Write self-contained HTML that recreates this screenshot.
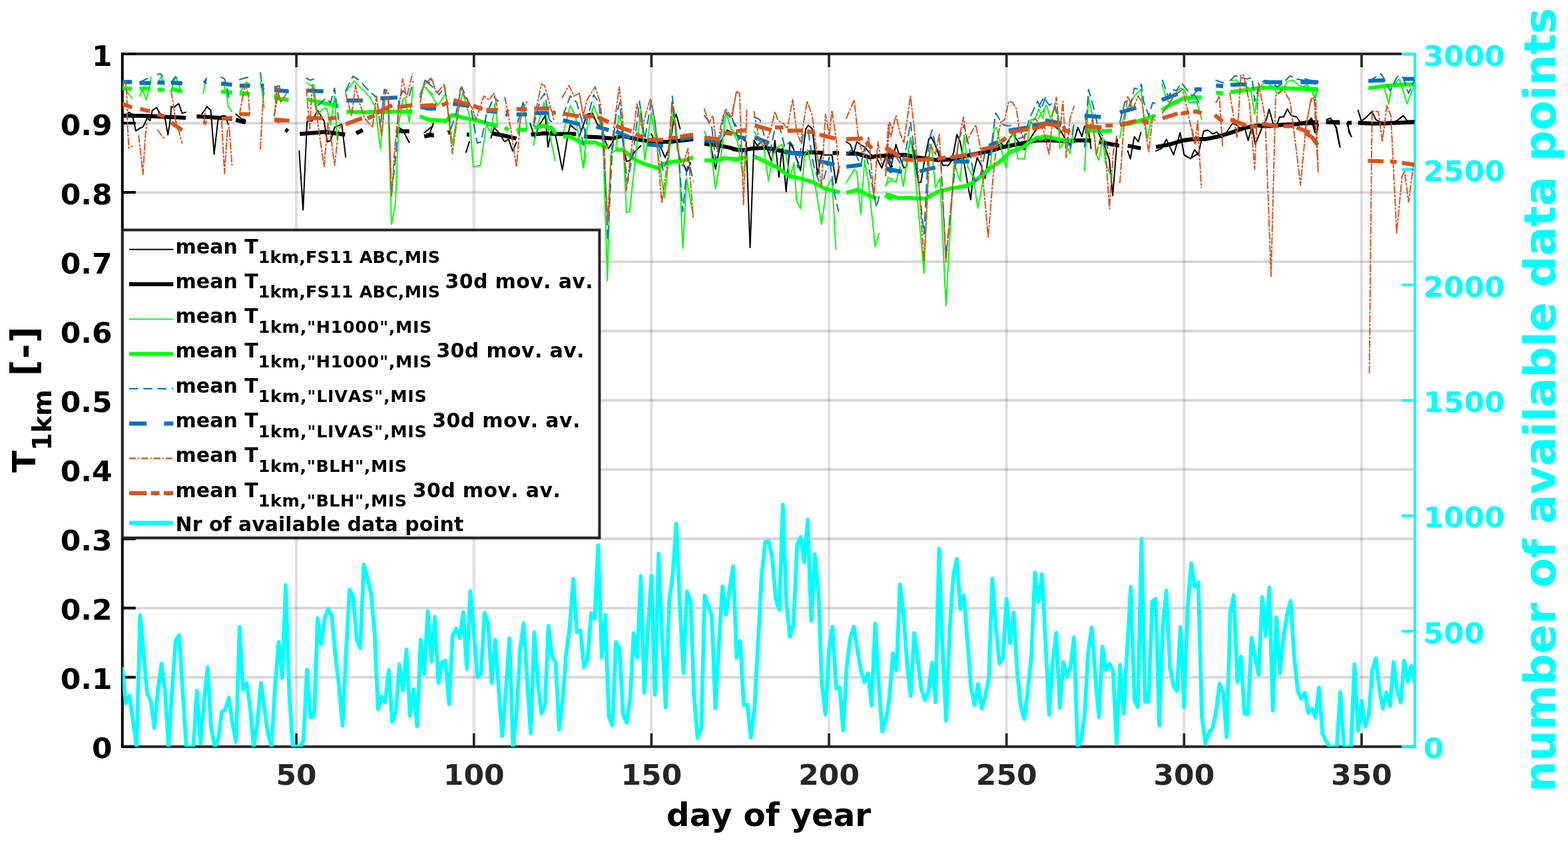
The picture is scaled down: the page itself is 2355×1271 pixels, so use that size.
<!DOCTYPE html>
<html><head><meta charset="utf-8"><style>html,body{margin:0;padding:0;background:#fff;overflow:hidden}</style></head>
<body>
<div style="width:2355px;height:1271px">
<svg width="2355" height="1271" viewBox="0 0 2355 1271" style="display:block">
<rect width="2355" height="1271" fill="#fff"/>
<defs><clipPath id="ax"><rect x="183.8" y="81.0" width="1941.2" height="1040.7"/></clipPath></defs>
<path d="M445.1 81.0V1121.7M711.8 81.0V1121.7M978.4 81.0V1121.7M1245.1 81.0V1121.7M1511.7 81.0V1121.7M1778.4 81.0V1121.7M2045.0 81.0V1121.7" stroke="#262626" stroke-opacity="0.147" stroke-width="4.2" fill="none"/>
<path d="M183.8 1017.6H2125.0M183.8 913.6H2125.0M183.8 809.5H2125.0M183.8 705.4H2125.0M183.8 601.4H2125.0M183.8 497.3H2125.0M183.8 393.2H2125.0M183.8 289.1H2125.0M183.8 185.1H2125.0" stroke="#262626" stroke-opacity="0.189" stroke-width="3.8" fill="none"/>
<path d="M183.8 81.0H2125.0M183.8 1121.7H2125.0" stroke="#262626" stroke-width="4" fill="none"/>
<path d="M445.1 1121.7v-20M445.1 81.0v20M711.8 1121.7v-20M711.8 81.0v20M978.4 1121.7v-20M978.4 81.0v20M1245.1 1121.7v-20M1245.1 81.0v20M1511.7 1121.7v-20M1511.7 81.0v20M1778.4 1121.7v-20M1778.4 81.0v20M2045.0 1121.7v-20M2045.0 81.0v20" stroke="#262626" stroke-width="3.6" fill="none"/>
<path d="M183.8 79.0V1123.7M183.8 1121.7h20M183.8 1017.6h20M183.8 913.6h20M183.8 809.5h20M183.8 705.4h20M183.8 601.4h20M183.8 497.3h20M183.8 393.2h20M183.8 289.1h20M183.8 185.1h20M183.8 81.0h20" stroke="#000" stroke-width="4" fill="none"/>
<path d="M2125.0 79.0V1123.7M2125.0 1121.7h-20M2125.0 948.2h-20M2125.0 774.8h-20M2125.0 601.4h-20M2125.0 427.9h-20M2125.0 254.4h-20M2125.0 81.0h-20" stroke="#00ffff" stroke-width="4" fill="none"/>
<g clip-path="url(#ax)" fill="none" stroke-linejoin="round" stroke-linecap="round">
<path d="M190.6,171.5 193.5,168.6 198.4,171.5 204.1,196.9 209.7,192.7 214.0,191.3 216.8,187.0 221.1,177.1 225.3,181.4 228.8,165.8 235.2,161.5 238.1,167.2 242.3,172.9 248.0,178.5 252.2,202.6 255.8,180.0 257.2,160.1 261.4,161.5 264.2,158.7 268.5,155.9 273.5,170.0 279.1,168.6M303.2,171.5 311.0,160.1 316.6,165.8 321.6,231.6 327.3,181.4 332.9,174.3 338.6,174.3 342.8,187.0M354.2,171.5 362.7,178.5 368.3,180.0M449.3,226.8 455.2,315.3 461.2,182.5 469.0,181.6 476.9,165.8 486.7,181.6 491.6,213.0 496.6,211.1 502.5,191.4 513.3,186.5 519.2,235.7M594.9,197.3 598.9,191.4 604.8,195.3 614.6,214.0M637.2,199.3 650.0,189.4M640.0,205.2 645.9,199.3 650.8,185.5M672.5,197.3 677.4,199.3M700.0,228.8 704.9,213.0M737.4,207.1 742.3,191.4 750.2,201.2 758.0,213.0 763.9,209.1 769.8,226.8 775.7,214.0M796.4,185.5 803.3,207.1 809.2,189.4 819.0,173.7 823.0,220.9 828.9,193.4 834.8,205.2 844.6,255.3 852.5,205.2 856.4,187.5 865.3,195.3M870.0,205.2 881.8,171.7 889.7,169.8 897.5,187.5 903.4,189.4 909.3,213.0 914.3,222.9 921.2,211.1M934.9,207.1 940.8,242.6 946.7,240.6 952.6,228.8 962.5,218.9M978.2,201.2 984.1,213.0 992.0,220.9 998.9,236.6 1005.7,220.9 1011.6,181.6 1015.6,171.7 1021.5,193.4M1027.4,248.5 1031.3,258.3 1037.2,244.5M1064.8,205.2 1074.6,254.4 1082.5,213.0 1092.3,195.3 1110.0,205.2M1100.0,197.3 1107.9,203.2 1120.7,213.0 1126.6,372.0 1132.5,211.1 1137.4,218.9 1145.2,211.1 1151.2,220.9 1159.0,242.6 1163.9,211.1 1169.8,266.2 1174.8,222.9 1180.7,287.8 1186.6,215.0 1191.5,222.9 1202.3,256.3 1210.2,193.4 1214.1,188.4 1220.0,193.4 1227.9,262.2 1233.8,232.7 1249.5,232.7 1255.4,275.0 1260.3,250.4M1271.2,213.0 1277.1,217.0 1282.0,230.7 1286.9,213.0 1291.8,217.0 1298.7,220.9 1308.5,232.7 1316.4,236.6 1324.3,252.4 1332.1,230.7 1340.0,250.4M1330.0,232.7 1337.9,252.4 1345.7,217.0 1351.6,236.6 1357.5,252.4 1361.5,250.4 1367.4,207.1 1373.3,232.7 1379.2,274.0 1383.1,274.0 1389.0,238.6 1394.9,209.1 1398.9,206.2 1406.7,222.9 1412.6,240.6 1416.6,248.5 1424.4,248.5 1428.4,242.6 1432.3,228.8 1437.2,202.2 1442.1,213.0 1448.0,244.5 1453.9,279.9 1457.9,300.0 1461.8,262.2 1467.7,236.6 1473.6,248.5 1479.5,268.1 1485.4,228.8 1491.3,222.9 1499.2,218.9 1503.1,215.0 1509.0,220.9 1520.8,201.2 1526.7,209.1 1538.5,224.8 1544.4,213.0 1554.3,197.3 1560.2,189.4 1570.0,187.5M1560.0,189.4 1571.8,187.5 1583.6,189.4 1593.4,197.3 1601.3,211.1 1607.2,217.0 1613.1,211.1 1619.0,191.4 1624.9,205.2 1628.9,189.4 1634.8,195.3 1638.7,222.9M1648.5,197.3 1658.4,217.0 1666.2,240.6 1671.2,293.7 1678.0,209.1M1693.8,226.8 1697.7,238.6 1703.6,205.2 1709.5,213.0 1713.5,199.3M1736.1,226.8 1744.9,222.9 1751.8,209.1 1762.6,232.7 1772.5,199.3 1778.4,232.7 1788.2,238.6 1794.1,224.8 1800.0,232.7M1790.0,236.6 1799.8,230.7 1807.7,197.3 1813.6,195.3 1821.5,201.2 1827.4,198.3 1835.2,207.1 1843.1,197.3 1851.0,185.5 1856.9,187.5 1862.8,193.4 1868.7,189.4 1874.6,211.1 1880.5,189.4 1885.4,217.0 1892.3,199.3 1897.2,187.5 1902.1,179.6 1906.1,163.9 1912.0,185.5 1917.9,187.5 1921.8,175.7 1927.7,175.7 1933.6,163.9 1939.5,173.7 1947.4,175.7 1955.3,187.5 1963.1,185.5 1969.0,177.6 1974.9,199.3 1978.9,195.3M1992.6,179.6 1998.5,177.6 2006.4,191.4 2012.3,220.9M2024.1,183.5 2026.1,199.3 2030.0,205.2M1960.0,187.5 1965.9,181.6 1969.8,177.6 1973.8,189.5 1977.7,199.3 1979.7,187.5M1992.5,179.6 1997.4,177.6 2001.3,181.6 2007.2,191.4 2012.7,220.9M2023.0,185.5 2028.9,204.2M2039.7,165.8 2044.6,181.6 2050.5,177.6 2060.4,167.8 2066.3,179.6 2070.2,181.6 2078.1,185.5 2087.9,185.5 2097.7,181.6 2107.6,173.7 2113.5,181.6 2124.3,181.6" stroke="#000" stroke-width="2.0"/>
<path d="M182.8,173.6 222.5,174.3 279.1,177.1M295.4,174.7 321.6,176.4 348.5,178.5M354.2,180.0 369.0,184.2M428.7,194.4 432.6,197.3M450.3,201.2 488.7,198.3 518.2,202.2M534.9,200.3 544.8,195.3M595.9,197.3 614.6,197.3M637.2,205.2 650.0,202.2M640.0,203.2 651.8,203.2M673.4,199.3 677.4,199.3M701.0,202.2 704.9,202.2M738.4,200.3 754.1,203.2 775.7,208.1M797.4,202.2 817.1,200.3 836.7,201.2 865.3,201.2M877.9,205.2 899.5,206.2 919.2,208.1 934.9,204.2 960.5,210.1 980.2,213.0 1007.7,213.0 1041.2,209.1M1057.9,216.0 1076.6,218.0 1096.2,221.9 1110.0,225.8M1100.0,223.9 1115.7,225.8 1131.5,222.9 1149.2,221.9 1168.9,225.8 1188.5,229.8 1208.2,230.7 1218.0,228.8 1237.7,229.8M1250.5,229.8 1260.3,229.8M1271.2,230.7 1286.9,230.7 1306.6,236.6 1316.4,234.7 1330.2,233.7 1340.0,236.6M1330.0,232.7 1359.5,232.7 1379.2,236.6 1408.7,240.6 1428.4,239.6 1448.0,234.7 1467.7,230.7 1487.4,226.8 1507.1,220.9 1526.7,217.0 1546.4,213.0 1570.0,209.1M1560.0,211.1 1579.7,211.1 1599.3,212.1 1619.0,211.1 1638.7,211.1M1650.5,213.0 1670.2,217.0 1681.0,218.9M1693.8,218.9 1713.5,222.9M1736.1,220.9 1756.7,217.0 1776.4,211.1 1800.0,208.1M1790.0,209.1 1809.7,209.1 1829.3,205.2 1849.0,199.3 1868.7,192.4 1888.4,188.4 1908.0,189.4 1927.7,187.5 1947.4,186.5 1967.1,183.5 1979.8,183.5M1992.6,183.5 2012.3,184.5M2024.1,184.5 2030.0,184.5M1960.0,185.5 1979.7,184.5M1991.5,183.5 2012.1,183.5M2024.0,184.5 2027.9,184.5M2039.7,184.5 2058.4,185.5 2078.1,185.5 2097.7,184.5 2124.3,183.5" stroke="#000" stroke-width="6.0" stroke-linecap="butt"/>
<path d="M182.8,127.6 188.5,134.6 192.7,140.3 198.4,147.4M209.7,144.6 214.0,134.6 219.6,150.2 225.3,127.6 226.7,116.2M236.6,126.2 242.3,114.8 246.5,127.6M257.2,136.1 263.5,114.8 270.6,133.2M305.3,140.3 308.8,120.5 310.3,117.7M335.8,126.2 340.0,138.9 342.8,160.1 348.5,167.9M361.2,137.5 369.7,123.3 375.4,127.6M391.0,123.3 393.8,137.5 396.6,161.5M412.2,146.0 420.0,137.5M460.2,124.5 467.1,128.4 471.0,126.5 476.9,172.7 484.8,163.9 490.7,161.9 496.6,187.5 502.5,144.2 506.4,209.1M519.2,138.3 532.0,121.6 539.8,130.4 547.7,137.3 555.6,146.2 563.5,159.9 571.3,222.9 577.2,161.9 583.1,163.9 588.0,337.0 593.9,305.5 598.9,185.5 604.8,149.1 608.7,147.1 614.6,183.5 620.5,130.4M630.3,142.2 636.2,129.4 650.0,142.2M640.0,131.4 657.7,158.0 669.5,141.2 679.3,217.0 687.2,171.7 695.1,139.3 704.9,173.7 710.8,250.4 721.6,248.5 730.5,187.5 737.4,199.3 743.3,156.0 747.2,187.5M777.7,201.2 785.6,154.0 791.5,193.4M801.3,218.0 807.2,189.4 817.1,154.0 823.9,193.4 833.8,241.6M846.6,197.3 856.4,158.9 864.3,173.7 876.1,252.4 880.0,232.7M870.0,213.0 875.9,252.4 881.8,193.4 891.6,158.0 899.5,179.6 905.4,201.2 912.3,421.8 917.2,232.7 925.1,224.8 929.0,173.7 934.9,185.5 940.8,319.3 945.7,317.3 952.6,252.4 962.5,163.9 968.4,240.6 978.2,169.8 988.0,228.8 997.9,297.6 1003.8,244.5 1011.6,159.9 1019.5,230.7 1025.4,373.0 1031.3,268.1 1041.2,325.2M1057.9,197.3 1066.7,217.0 1074.6,283.9 1082.5,236.6 1090.3,169.8 1098.2,193.4 1110.0,209.1M1100.0,197.3 1107.9,213.0 1115.7,264.2 1121.6,236.6M1132.5,197.3 1139.3,209.1 1147.2,220.9 1154.1,272.1 1161.0,232.7 1167.9,220.9 1174.8,217.0 1180.7,232.7 1186.6,268.1 1192.5,244.5 1196.4,301.6 1202.3,313.4 1208.2,232.7 1213.1,224.8 1220.0,256.3 1225.9,287.8 1233.8,337.0 1241.6,281.9 1249.5,268.1 1255.4,374.4M1271.2,274.0 1283.0,254.4 1286.9,258.3 1292.8,321.2 1298.7,240.6 1304.6,276.0 1314.4,370.4 1320.3,350.8M1330.2,278.0 1340.0,268.1M1330.0,279.9 1333.9,266.2 1345.7,274.0 1351.6,250.4 1356.6,279.9 1367.4,207.1 1373.7,252.4 1387.8,410.2 1395.3,232.7 1398.9,217.0 1404.8,281.9 1411.8,268.1 1420.7,459.4 1432.7,244.5 1442.1,272.1 1448.0,203.2 1453.9,252.4 1461.8,266.2 1468.5,312.8 1479.5,256.3 1487.4,248.5 1493.3,193.4 1497.2,191.4 1501.2,213.0 1511.0,252.4 1516.9,205.2 1522.8,201.2 1528.7,238.6 1538.5,238.6 1548.4,179.6 1554.3,179.6 1560.2,163.9 1566.1,177.6 1570.0,159.9M1560.0,177.6 1565.9,167.8 1571.8,158.0 1577.7,177.6 1583.6,161.9 1589.5,173.7 1591.5,222.9 1599.3,213.0 1607.2,230.7 1613.1,187.5M1628.9,256.3 1634.8,146.2 1640.7,173.7 1646.6,232.7 1650.5,240.6 1656.4,207.1 1660.3,244.5 1670.2,268.1M1682.0,207.1 1687.9,173.7 1697.7,154.0 1703.6,144.2 1713.5,134.3 1717.4,169.8 1723.3,209.1 1729.2,177.6 1735.1,173.7M1744.9,126.5 1750.8,144.2 1756.7,156.0 1762.6,144.2 1772.5,132.4 1778.4,134.3 1786.2,154.0 1800.0,152.1M1790.0,154.0 1797.9,154.0 1804.8,179.6M1847.1,120.6 1856.9,120.6 1864.8,126.5 1872.6,130.4 1878.5,134.3 1884.4,171.7 1890.3,134.3 1900.2,121.6 1912.0,130.4 1917.9,140.2 1925.7,134.3 1933.6,122.5 1941.5,120.6 1951.3,128.4 1957.2,130.4 1963.1,126.5 1971.0,138.3 1975.9,146.2 1979.8,134.3M1960.0,128.5 1967.9,134.4 1974.8,146.2 1979.7,134.4M2055.4,134.4 2078.1,128.5 2085.9,156.0 2089.9,130.4 2101.7,118.6 2113.5,156.0 2124.3,126.5" stroke="#00ff00" stroke-width="2.0"/>
<path d="M182.8,132.5 198.4,133.5M209.7,132.9 226.0,132.9M236.6,134.4 247.3,135.1M257.2,133.2 273.5,137.5M332.2,137.5 348.5,138.9M359.8,140.3 375.4,141.0M412.2,144.6 420.0,143.8M412.0,147.1 433.6,150.1M461.2,149.1 508.4,159.9M520.2,167.8 547.7,168.8 565.4,167.8 619.5,167.8M630.3,174.7 650.0,181.6M640.0,179.6 669.5,181.6 679.3,172.7 699.0,177.6 718.7,181.6 747.2,189.4M758.0,191.4 763.9,195.3M775.7,194.4 791.5,195.3M802.3,191.4 817.1,189.4 828.9,192.4 834.8,201.2M845.6,205.2 856.4,205.2 876.1,216.0 880.0,217.0M870.0,214.0 893.6,214.0 913.3,221.9M925.1,223.9 936.9,225.8 952.6,239.6 968.4,246.5 988.0,252.4 995.9,246.5 1007.7,243.5 1023.5,241.6 1041.2,236.6M1057.9,240.6 1074.6,241.6 1086.4,237.6 1110.0,239.6M1100.0,240.6 1111.8,237.6 1121.6,236.6M1132.5,234.7 1149.2,242.6 1168.9,252.4 1184.6,264.2 1202.3,268.1 1222.0,274.0 1237.7,282.9 1261.3,288.8M1271.2,289.8 1288.9,284.8 1304.6,293.7 1316.4,297.6M1329.2,293.7 1340.0,299.6M1330.0,291.7 1349.7,297.6 1369.3,297.6 1389.0,298.6 1408.7,287.8 1428.4,282.9 1448.0,279.9 1457.9,276.0 1471.6,266.2 1487.4,252.4 1503.1,241.6 1516.9,228.8 1536.6,220.9 1556.2,207.1 1570.0,205.2M1560.0,209.1 1571.8,205.2 1589.5,209.1 1613.1,213.0M1629.8,195.3 1654.4,197.3 1670.2,196.3M1682.0,187.5 1697.7,185.5 1717.4,179.6 1735.1,173.7M1744.9,165.8 1756.7,158.0 1776.4,148.1 1800.0,146.2M1790.0,147.1 1804.8,146.2M1826.4,139.3 1837.2,140.2M1848.0,138.3 1872.6,135.3 1888.4,132.4 1908.0,131.4 1927.7,132.4 1947.4,133.4 1967.1,133.4 1979.8,134.3M1960.0,134.4 1979.7,134.4M2055.4,132.4 2078.1,129.4 2097.7,127.5 2124.3,126.5" stroke="#00ff00" stroke-width="6.0" stroke-linecap="butt"/>
<path d="M182.8,121.9 198.4,120.5M209.7,123.3 225.3,116.2M236.6,112.0 240.9,110.6 244.4,114.8M257.2,123.3 263.5,115.5 269.2,119.8 273.5,124.7M306.0,123.3 309.6,118.4M332.2,116.2 337.2,118.4 340.0,127.6 343.5,146.0M359.8,119.8 365.5,117.7 372.6,116.2M391.0,109.2 393.8,129.0 396.6,141.7M412.2,130.4 420.0,129.0M460.2,117.6 466.1,120.6 471.0,118.6M477.9,158.0 488.7,148.1 496.6,154.0 502.5,132.4 508.4,179.6M519.2,136.3 530.0,114.7 539.8,120.6 555.6,138.3 565.4,146.2 571.3,191.4 577.2,134.3 583.1,144.2 588.0,291.7 594.9,228.8 598.9,152.1 604.8,136.3 614.6,144.2 620.5,122.5M631.3,146.2 638.2,120.6 650.0,126.5M640.0,122.5 651.8,132.4 659.7,142.2 667.5,130.4 677.4,193.4 685.2,169.8 693.1,130.4 706.9,159.9 716.7,215.0 722.6,213.0 730.5,171.7 738.4,154.0 742.3,146.2 748.2,152.1M777.7,183.5 785.6,154.0 789.5,165.8M801.3,189.4 811.2,150.1 818.0,140.2 824.9,179.6 832.8,187.5M845.6,173.7 856.4,144.2 866.2,154.0 880.0,203.2M870.0,185.5 875.9,217.0 881.8,179.6 891.6,142.2 899.5,154.0 907.4,232.7 912.9,359.6 919.2,232.7 925.1,173.7 931.0,154.0 936.9,232.7 942.8,274.0 952.6,217.0 960.5,152.1 968.4,209.1 978.2,152.1 988.0,213.0 995.9,256.3 1003.8,236.6 1009.7,144.2 1019.5,232.7 1025.4,317.9 1033.3,236.6 1041.2,272.1M1057.9,173.7 1068.7,187.5 1074.6,240.6 1082.5,205.2 1088.4,165.8 1106.1,189.4M1100.0,177.6 1107.9,205.2 1115.7,232.7 1121.6,220.9M1132.5,175.7 1141.3,179.6 1149.2,209.1 1156.1,230.7 1163.0,197.3 1170.8,189.4 1178.7,220.9 1186.6,213.0 1192.5,220.9 1198.4,252.4 1206.2,201.2 1214.1,199.3 1222.0,248.5 1229.8,272.1 1237.7,268.1 1245.6,236.6 1253.5,291.7 1259.4,317.3M1271.2,232.7 1281.0,222.9 1292.8,248.5 1298.7,220.9 1304.6,250.4 1312.5,291.7 1316.4,311.4 1320.3,295.7M1330.2,248.5 1340.0,232.7M1330.0,238.6 1337.9,244.5 1345.7,234.7 1353.6,248.5 1361.5,220.9 1367.4,183.5 1377.2,252.4 1387.8,351.7 1394.9,213.0 1399.8,195.3 1404.8,217.0 1412.6,232.7 1420.7,384.8 1432.3,272.1 1440.2,209.1 1448.0,187.5 1455.9,222.9 1463.8,272.1 1471.6,268.1 1479.5,228.8 1487.4,232.7 1495.3,169.8 1501.2,179.6 1507.1,187.5 1514.9,189.4 1520.8,187.5 1526.7,209.1 1538.5,205.2 1546.4,177.6 1558.2,152.1 1564.1,163.9 1570.0,146.2M1560.0,159.9 1567.9,146.2 1575.7,158.0 1583.6,154.0 1591.5,193.4 1599.3,189.4 1607.2,224.8 1613.1,181.6M1628.9,220.9 1634.8,134.3 1642.6,161.9 1650.5,197.3 1658.4,207.1 1666.2,230.7M1682.0,183.5 1689.8,152.1 1697.7,159.9 1703.6,132.4 1709.5,134.3 1714.4,126.5 1717.4,152.1 1725.3,173.7 1731.2,154.0 1735.1,156.0M1745.9,120.6 1754.8,146.2 1760.7,134.3 1766.6,136.3 1774.4,124.5 1782.3,134.3 1790.2,144.2 1800.0,134.3M1793.9,142.2 1803.8,159.9M1826.4,120.6 1837.2,124.5M1848.0,120.6 1854.9,113.7 1864.8,116.6 1872.6,118.6 1880.5,116.6 1884.4,152.1 1892.3,124.5 1900.2,120.6 1908.0,122.5 1917.9,130.4 1927.7,124.5 1937.6,113.7 1947.4,118.6 1957.2,120.6 1967.1,122.5 1974.9,126.5 1979.8,122.5M1960.0,118.6 1979.7,123.5M2055.4,122.5 2074.1,110.7 2080.0,120.6 2087.9,136.3 2097.7,116.6 2101.7,112.7 2107.6,116.6 2115.5,140.3 2124.3,120.6" stroke="#0072bd" stroke-width="2.0" stroke-dasharray="13 8"/>
<path d="M182.8,123.3 198.4,123.3M209.7,124.7 226.0,124.7M236.6,124.0 247.3,124.0M257.2,124.0 273.5,125.4M306.7,123.3 310.3,123.3M332.2,125.4 348.5,127.3M359.8,128.7 375.4,128.7M391.7,128.3 396.6,129.0M412.2,133.9 420.0,135.4M412.0,135.3 433.6,137.3M461.2,135.9 485.7,137.3M520.2,151.1 544.8,151.1M571.3,147.7 596.9,146.5M631.3,160.9 650.0,163.9M640.0,162.9 654.8,162.9M680.3,156.0 704.9,158.9M730.5,166.8 747.2,167.8M760.0,170.7 763.0,173.7M775.7,171.7 791.5,171.7M802.3,169.8 824.9,169.8M845.6,180.6 870.2,186.5M895.6,190.4 914.3,195.3M925.1,197.3 946.7,207.1M972.3,217.0 995.9,218.9M1021.5,209.1 1041.2,206.2M1057.9,211.1 1081.5,213.0M1107.9,205.2 1120.7,208.1M1133.4,206.2 1155.1,215.0M1178.7,228.8 1206.2,231.7M1228.9,241.6 1253.5,247.5M1271.2,250.4 1294.8,247.5M1330.2,252.4 1340.0,258.3M1332.0,253.4 1354.6,258.3M1381.2,257.3 1404.8,251.4M1432.3,242.6 1455.9,242.6M1485.4,218.9 1499.2,213.0M1514.9,196.3 1543.5,191.4M1550.3,188.4 1570.0,185.5M1569.8,180.6 1594.4,185.5M1628.9,173.7 1653.4,175.7M1682.0,168.8 1706.6,161.9M1744.9,150.1 1768.5,141.2M1795.1,134.3 1800.0,134.3M1793.9,134.3 1804.8,134.3M1826.4,128.4 1837.2,129.4M1848.0,127.5 1872.6,126.5M1899.2,123.5 1925.7,123.5M1953.3,123.5 1978.9,123.5M1960.0,122.5 1979.7,123.5M2055.4,121.6 2080.0,120.6M2107.6,118.6 2124.3,118.6" stroke="#0072bd" stroke-width="6.0" stroke-linecap="butt"/>
<path d="M182.8,129.0 188.5,121.9 190.6,143.1 191.3,185.6 193.5,222.4 198.4,219.6M208.3,204.0 214.7,262.1 218.2,205.4 220.4,185.6M236.6,195.5 246.5,208.3M257.2,137.5 260.7,158.7 263.5,180.0 267.8,194.1 273.5,215.4M306.0,185.6 308.8,164.4M332.9,182.8 337.2,260.7 341.4,196.9 344.2,191.3 348.5,247.9M359.8,171.5 362.7,154.5 368.3,126.2 372.6,141.7 375.4,174.3M391.0,223.8 393.8,171.5 396.6,129.0M412.2,174.3 415.0,155.9 420.0,130.4M412.0,173.7 415.9,130.4 421.8,154.0 429.7,141.2M460.2,134.3 465.1,193.4 469.0,128.4 473.0,154.0 486.7,250.4 492.6,183.5 498.5,217.0 502.5,248.5 508.4,197.3 512.3,187.5M519.2,140.2 528.0,173.7 533.9,128.4 539.8,154.0 547.7,177.6 559.5,191.4 565.4,144.2 573.3,205.2 579.2,134.3 583.1,138.3 588.0,295.7 593.0,220.9 598.9,163.9 604.8,118.6 610.7,146.2 619.5,110.7M631.3,154.0 636.2,128.4 646.1,118.6 650.0,122.5M640.0,124.5 647.9,116.6 655.7,140.2 667.5,126.5 671.5,154.0 679.3,230.7 687.2,175.7 691.2,132.4 703.0,154.0 708.9,161.9 714.8,179.6 726.6,144.2 734.4,150.1 742.3,140.2 747.2,163.9M758.0,146.2 763.9,173.7 775.7,250.4 781.6,179.6 787.6,159.9 791.5,152.1M801.3,183.5 813.1,126.5 818.0,128.4 824.9,154.0 831.8,179.6M844.6,146.2 854.4,128.4 862.3,144.2 870.2,140.2 876.1,173.7M870.0,140.2 875.9,173.7 881.8,150.1 893.6,130.4 901.5,154.0 907.4,213.0 912.3,335.4 919.2,213.0 925.1,167.8 930.0,130.4 934.9,173.7 940.8,285.8 948.7,220.9 956.6,156.0 964.4,193.4 972.3,161.9 977.2,148.1 984.1,183.5 993.9,305.5 1001.8,248.5 1009.7,156.0 1017.6,224.8 1025.4,250.4 1033.3,222.9 1041.2,327.5M1057.9,163.9 1064.8,185.5 1070.7,173.7 1076.6,222.9 1084.4,179.6 1090.3,163.9 1098.2,175.7 1106.1,138.3 1110.0,140.2M1100.0,173.7 1105.9,137.3 1110.8,140.2 1116.7,307.5 1121.6,163.9M1132.5,167.8 1139.3,205.2 1147.2,220.9 1157.1,197.3 1163.9,167.8 1168.9,181.6 1176.7,185.5 1182.6,193.4 1190.5,149.1 1196.4,197.3 1202.3,213.0 1212.1,152.1 1220.0,173.7 1225.9,222.9 1233.8,279.9 1239.7,171.7 1245.6,203.2 1249.5,165.8 1255.4,205.2 1260.3,260.3M1271.2,177.6 1283.0,150.1 1288.9,205.2 1296.7,236.6 1304.6,205.2 1312.5,295.7 1318.4,213.0 1324.3,246.5M1330.2,264.2 1336.1,183.5 1340.0,193.4M1330.0,264.2 1333.9,187.5 1337.9,205.2 1345.7,173.7 1351.6,199.3 1357.5,215.0 1367.4,144.2 1373.3,193.4 1379.2,262.2 1387.8,392.1 1396.9,217.0 1404.8,232.7 1410.7,201.2 1420.7,393.6 1432.3,262.2 1440.2,209.1 1447.1,175.7 1452.0,213.0 1459.8,197.3 1465.7,187.5 1471.6,217.0 1484.2,357.0 1491.3,268.1 1497.2,213.0 1503.1,183.5 1509.0,179.6 1514.9,152.1 1520.8,154.0 1526.7,163.9 1530.7,193.4 1538.5,209.1 1546.4,187.5 1554.3,177.6 1562.1,187.5 1570.0,193.4M1560.0,185.5 1567.9,197.3 1575.7,232.7 1581.6,169.8 1586.6,146.2 1591.5,201.2 1596.4,152.1 1601.3,236.6 1607.2,177.6 1613.1,159.9M1629.8,177.6 1634.8,205.2 1640.7,177.6 1646.6,232.7 1652.5,209.1 1660.3,224.8 1666.2,313.4 1672.1,228.8 1678.0,201.2M1682.0,274.0 1687.9,189.4 1693.8,144.2 1701.6,163.9 1709.5,144.2 1715.4,154.0 1719.4,189.4 1725.3,228.8 1731.2,175.7 1735.1,181.6M1745.9,169.8 1754.8,158.0 1762.6,144.2 1768.5,140.2 1776.4,134.3 1784.3,169.8 1794.1,217.0 1800.0,205.2M1790.0,193.4 1794.9,213.0 1798.9,181.6 1804.2,281.9M1826.4,154.0 1831.3,144.2 1836.2,218.9M1847.1,140.2 1857.9,207.1 1863.8,112.7 1867.7,112.7 1876.6,154.0 1884.4,254.4 1890.3,124.5 1900.2,177.6 1909.0,415.1 1915.9,144.2 1927.7,134.3 1937.6,152.1 1945.4,213.0 1953.3,278.0 1961.2,193.4 1969.0,148.1 1975.9,146.2 1979.8,258.3M1960.0,197.3 1967.9,154.0 1973.8,146.2 1979.7,256.4M2056.6,560.0 2060.7,166.8 2070.2,167.8 2076.1,213.1 2083.0,158.0 2088.9,173.7 2097.7,350.0 2105.6,266.2 2109.5,256.4 2115.5,303.6 2123.3,244.5" stroke="#d95319" stroke-width="2.0" stroke-dasharray="10 3.5 2 3.5"/>
<path d="M182.8,155.9 198.4,161.5M210.4,163.7 225.3,167.2M236.6,171.5 247.3,175.0M257.2,184.2 273.5,195.5M306.0,183.5 310.3,185.6M332.9,178.5 348.5,177.1M359.8,171.5 375.4,171.5M412.2,180.0 420.0,182.8M412.0,179.6 434.6,181.6M460.2,177.6 484.8,177.6M492.6,178.6 505.4,176.6M519.2,186.5 543.8,177.6M551.6,177.6 562.5,173.7M565.4,169.8 589.0,158.0M596.9,160.9 619.5,158.0M631.3,158.9 650.0,158.0M640.0,158.9 655.7,158.0M663.6,158.0 673.4,154.0M681.3,150.1 704.9,158.0M710.8,158.9 724.6,163.9M730.5,164.8 747.2,165.8M760.0,165.8 763.9,167.8M775.7,163.9 791.5,163.9M802.3,162.9 824.9,162.9M828.9,169.8 834.8,168.8M845.6,170.7 869.2,174.7M876.1,175.7 880.0,175.7M875.9,174.7 891.6,174.7M897.5,175.7 914.3,183.5M925.1,189.4 948.7,197.3M954.6,201.2 966.4,206.2M972.3,210.1 995.9,210.1M1003.8,207.1 1015.6,207.1M1021.5,205.2 1041.2,202.2M1057.9,207.1 1081.5,209.1M1087.4,199.3 1100.2,201.2M1106.1,197.3 1110.0,196.3M1105.9,197.3 1120.7,195.3M1133.4,188.4 1158.0,195.3M1163.9,191.4 1176.7,191.4M1182.6,196.3 1204.3,196.3M1212.1,197.3 1223.9,199.3M1230.8,202.2 1254.4,208.1M1271.2,209.1 1295.8,208.1M1300.7,213.0 1309.5,222.9M1330.2,222.9 1340.0,229.8M1330.0,220.9 1341.8,228.8 1351.6,235.7M1357.5,239.6 1371.3,240.6M1377.2,240.6 1400.8,238.6M1407.7,238.6 1420.5,236.6M1427.4,236.6 1452.0,232.7M1457.9,233.7 1469.7,230.7M1473.6,224.8 1499.2,218.9M1503.1,213.0 1511.0,207.1M1515.9,198.3 1543.5,194.4M1550.3,193.4 1570.0,188.4M1560.0,189.4 1569.8,185.5 1589.5,189.4M1595.4,194.4 1607.2,198.3M1629.8,189.4 1654.4,191.4M1660.3,188.4 1671.2,188.4M1682.0,187.5 1706.6,181.6M1714.4,181.6 1725.3,184.5M1745.9,177.6 1768.5,170.7M1773.5,170.7 1786.2,168.8M1792.1,167.8 1800.0,167.8M1793.9,166.8 1804.8,169.8M1824.4,172.7 1836.2,182.5M1848.0,179.6 1871.6,188.4M1877.5,189.4 1888.4,190.4M1895.3,186.5 1919.8,189.4M1927.7,189.4 1943.5,189.4M1947.4,191.4 1967.1,199.3M1970.0,205.2 1976.9,215.0M1960.0,199.3 1971.8,207.2 1978.7,218.0M2054.5,241.6 2078.1,242.6M2087.9,242.6 2097.7,243.6M2105.6,244.5 2124.3,247.5" stroke="#d95319" stroke-width="6.0" stroke-linecap="butt"/>
<polyline points="183.8,1004.8 189.1,1056.4 194.5,1045.2 199.8,1084.4 205.1,1121.7 210.5,924.1 215.8,983.5 221.1,1041.8 226.5,1053.0 231.8,1093.4 237.1,1037.3 242.5,997.0 247.8,1037.3 253.1,1121.7 258.5,1035.1 263.8,962.2 269.1,954.3 274.5,1041.8 279.8,1121.7 285.1,1121.7 290.5,1121.7 295.8,1037.3 301.1,1116.9 306.5,1053.0 311.8,1002.6 317.1,1093.4 322.5,1121.7 327.8,1109.1 333.1,1069.8 338.5,1065.3 343.8,1048.5 349.1,1086.6 354.5,1114.7 359.8,942.0 365.1,1036.2 370.5,1026.1 375.8,1064.2 381.1,1121.7 386.5,1086.6 391.8,1026.1 397.1,1064.2 402.5,1102.3 407.8,1121.7 413.1,1030.6 418.5,964.4 423.8,1018.3 429.1,879.2 434.4,1041.8 439.8,1121.7 445.1,1121.7 450.4,1121.7 455.8,1112.4 461.1,1005.9 466.4,1077.7 471.8,1075.4 477.1,928.6 482.4,967.8 487.8,927.4 493.1,915.1 498.4,925.2 503.8,985.7 509.1,1030.6 514.4,1090.0 519.8,979.0 525.1,886.0 530.4,896.1 535.8,961.1 541.1,973.4 546.4,847.8 551.8,866.9 557.1,890.4 562.4,947.6 567.8,1065.3 573.1,1046.3 578.4,1055.2 583.8,1007.0 589.1,1084.4 594.4,1069.8 599.8,998.1 605.1,1037.3 610.4,975.7 615.8,1075.4 621.1,1035.1 626.4,1091.1 631.8,961.1 637.1,1012.6 642.4,918.5 647.8,993.6 653.1,926.3 658.4,1026.1 663.8,994.7 669.1,992.5 674.4,1057.5 679.8,954.3 685.1,944.3 690.4,958.8 695.8,919.6 701.1,1004.8 706.4,888.2 711.8,952.1 717.1,1017.1 722.4,1012.6 727.8,920.7 733.1,936.4 738.4,1026.1 743.8,961.1 749.1,1037.3 754.4,1105.7 759.8,1037.3 765.1,959.2 770.4,1121.7 775.8,1073.2 781.1,975.5 786.4,936.1 791.8,1024.4 797.1,1101.7 802.4,949.7 807.8,1024.4 813.1,1071.9 818.4,1058.3 823.8,940.2 829.1,986.4 834.4,994.5 839.8,1096.3 845.1,1051.5 850.4,980.9 855.8,940.2 861.1,869.6 866.4,949.7 871.8,947.0 877.1,1002.6 882.4,990.4 887.8,921.2 893.1,929.3 898.4,819.4 903.8,987.7 909.1,923.9 914.4,1076.0 919.7,1089.5 925.1,964.6 930.4,972.8 935.7,1073.2 941.1,1085.5 946.4,1048.8 951.7,951.1 957.1,987.7 962.4,865.5 967.7,1040.7 973.1,942.9 978.4,865.5 983.7,1043.4 989.1,831.6 994.4,956.5 999.7,1062.4 1005.1,903.5 1010.4,861.5 1015.7,786.8 1021.1,910.3 1026.4,1010.8 1031.7,888.6 1037.1,902.2 1042.4,1046.1 1047.7,1108.5 1053.1,1094.5 1058.4,894.5 1063.7,909.7 1069.1,926.4 1074.4,1064.2 1079.7,967.3 1085.1,880.9 1090.4,923.3 1095.7,885.5 1101.1,850.6 1106.4,988.5 1111.7,962.7 1117.1,1059.7 1122.4,1058.2 1127.7,1108.2 1133.1,1064.2 1138.4,967.3 1143.7,867.3 1149.1,814.2 1154.4,812.7 1159.7,837.0 1165.1,900.6 1170.4,915.8 1175.7,758.2 1181.1,906.7 1186.4,956.7 1191.7,938.5 1197.1,818.8 1202.4,806.7 1207.7,844.5 1213.1,780.9 1218.4,932.4 1223.7,832.4 1229.1,888.5 1234.4,1027.9 1239.7,1073.3 1245.1,976.4 1250.4,941.5 1255.7,1033.9 1261.1,1032.4 1266.4,1097.6 1271.7,1000.6 1277.1,958.2 1282.4,941.5 1287.7,976.4 1293.1,1006.7 1298.4,1024.8 1303.7,1011.2 1309.1,1059.7 1314.4,937.0 1319.7,1027.9 1325.1,1099.1 1330.4,1082.4 1335.7,1049.1 1341.1,981.6 1346.4,1007.2 1351.7,878.0 1357.1,922.8 1362.4,999.5 1367.7,1045.5 1373.1,950.9 1378.4,989.3 1383.7,1035.3 1389.1,1051.9 1394.4,1039.1 1399.7,995.7 1405.0,1054.5 1410.4,824.3 1415.7,979.0 1421.0,1082.6 1426.4,943.2 1431.7,866.5 1437.0,839.6 1442.4,915.1 1447.7,894.6 1453.0,963.7 1458.4,1032.7 1463.7,1059.6 1469.0,1027.6 1474.4,1064.7 1479.7,1045.5 1485.0,1019.9 1490.4,869.1 1495.7,943.2 1501.0,996.9 1506.4,988.0 1511.7,899.7 1517.0,966.2 1522.4,920.2 1527.7,1009.7 1533.0,1060.9 1538.4,1080.1 1543.7,1035.3 1549.0,986.7 1554.4,860.1 1559.7,904.9 1565.0,862.7 1570.4,966.2 1575.7,1073.7 1581.0,994.4 1586.4,950.9 1591.7,1063.4 1597.0,994.4 1602.4,1017.4 1607.7,1002.0 1613.0,957.3 1618.4,1121.7 1623.7,1112.0 1629.0,1073.2 1634.4,978.2 1639.7,942.9 1645.0,1016.2 1650.4,1077.3 1655.7,971.4 1661.0,1006.7 1666.4,997.2 1671.7,1008.1 1677.0,1116.7 1682.4,998.6 1687.7,1071.9 1693.0,972.8 1698.4,881.8 1703.7,1051.5 1709.0,1062.4 1714.4,809.9 1719.7,1054.2 1725.0,1054.2 1730.4,903.5 1735.7,899.5 1741.0,1089.5 1746.4,940.2 1751.7,887.2 1757.0,1001.3 1762.4,1029.8 1767.7,1037.9 1773.0,941.6 1778.4,1062.4 1783.7,913.0 1789.0,846.5 1794.4,881.8 1799.7,875.0 1805.0,1076.0 1810.4,1116.7 1815.7,1100.4 1821.0,1093.6 1826.4,1069.2 1831.7,1027.1 1837.0,1040.7 1842.4,1107.2 1847.7,918.5 1853.0,894.0 1858.4,1024.4 1863.7,986.4 1869.0,1071.9 1874.4,1073.2 1879.7,957.8 1885.0,985.7 1890.3,1013.8 1895.7,897.2 1901.0,955.5 1906.3,882.6 1911.7,1067.6 1917.0,927.4 1922.3,1011.5 1927.7,956.6 1933.0,923.0 1938.3,902.8 1943.7,985.7 1949.0,1037.3 1954.3,1049.6 1959.7,1040.7 1965.0,1070.9 1970.3,1064.2 1975.7,1077.7 1981.0,1032.8 1986.3,1102.3 1991.7,1113.5 1997.0,1121.7 2002.3,1121.7 2007.7,1121.7 2013.0,1039.6 2018.3,1121.7 2023.7,1121.7 2029.0,1121.7 2034.3,998.1 2039.7,1097.8 2045.0,1053.0 2050.3,1091.1 2055.7,1075.4 2061.0,1007.0 2066.3,989.1 2071.7,1035.1 2077.0,1064.2 2082.3,1040.7 2087.7,1060.9 2093.0,994.7 2098.3,1037.3 2103.7,1055.2 2109.0,992.5 2114.3,1023.9 2119.7,1000.3 2125.0,1026.1" stroke="#00ffff" stroke-width="5.8"/>
</g>
<g style="font-family:'DejaVu Sans',sans-serif;font-weight:bold;font-kerning:none;font-size:42.7px">
<text transform="translate(168.6,1139.2) scale(1.03,1)" text-anchor="end" fill="#000">0</text>
<text transform="translate(168.6,1035.1) scale(1.03,1)" text-anchor="end" fill="#000">0.1</text>
<text transform="translate(168.6,931.1) scale(1.03,1)" text-anchor="end" fill="#000">0.2</text>
<text transform="translate(168.6,827.0) scale(1.03,1)" text-anchor="end" fill="#000">0.3</text>
<text transform="translate(168.6,722.9) scale(1.03,1)" text-anchor="end" fill="#000">0.4</text>
<text transform="translate(168.6,618.9) scale(1.03,1)" text-anchor="end" fill="#000">0.5</text>
<text transform="translate(168.6,514.8) scale(1.03,1)" text-anchor="end" fill="#000">0.6</text>
<text transform="translate(168.6,410.7) scale(1.03,1)" text-anchor="end" fill="#000">0.7</text>
<text transform="translate(168.6,306.6) scale(1.03,1)" text-anchor="end" fill="#000">0.8</text>
<text transform="translate(168.6,202.6) scale(1.03,1)" text-anchor="end" fill="#000">0.9</text>
<text transform="translate(168.6,98.5) scale(1.03,1)" text-anchor="end" fill="#000">1</text>
<text transform="translate(445.1,1179.0) scale(1.03,1)" text-anchor="middle" fill="#262626">50</text>
<text transform="translate(711.8,1179.0) scale(1.03,1)" text-anchor="middle" fill="#262626">100</text>
<text transform="translate(978.4,1179.0) scale(1.03,1)" text-anchor="middle" fill="#262626">150</text>
<text transform="translate(1245.1,1179.0) scale(1.03,1)" text-anchor="middle" fill="#262626">200</text>
<text transform="translate(1511.7,1179.0) scale(1.03,1)" text-anchor="middle" fill="#262626">250</text>
<text transform="translate(1778.4,1179.0) scale(1.03,1)" text-anchor="middle" fill="#262626">300</text>
<text transform="translate(2045.0,1179.0) scale(1.03,1)" text-anchor="middle" fill="#262626">350</text>
<text transform="translate(2137.7,1139.3) scale(1.03,1)" fill="#00ffff">0</text>
<text transform="translate(2137.7,965.9) scale(1.03,1)" fill="#00ffff">500</text>
<text transform="translate(2137.7,792.4) scale(1.03,1)" fill="#00ffff">1000</text>
<text transform="translate(2137.7,619.0) scale(1.03,1)" fill="#00ffff">1500</text>
<text transform="translate(2137.7,445.5) scale(1.03,1)" fill="#00ffff">2000</text>
<text transform="translate(2137.7,272.0) scale(1.03,1)" fill="#00ffff">2500</text>
<text transform="translate(2137.7,98.6) scale(1.03,1)" fill="#00ffff">3000</text>
</g>
<text x="1154.65" y="1240.5" text-anchor="middle" style="font-family:'DejaVu Sans',sans-serif;font-weight:bold;font-kerning:none;font-size:48.3px" fill="#000">day of year</text>
<text transform="translate(52.5,710) rotate(-90)" style="font-family:'DejaVu Sans',sans-serif;font-weight:bold;font-kerning:none;font-size:48.5px" fill="#000">T<tspan dy="24.2" style="font-size:38.2px">1km</tspan></text>
<text transform="translate(55,565.3) rotate(-90)" style="font-family:'DejaVu Sans',sans-serif;font-weight:bold;font-kerning:none;font-size:54px;letter-spacing:1.5px" fill="#000">[-]</text>
<text transform="translate(2335.5,1189.9) rotate(-90)" style="font-family:'DejaVu Sans',sans-serif;font-weight:bold;font-kerning:none;font-size:65.3px" fill="#00ffff">number of available data points</text>
<rect x="183.9" y="345.5" width="716.5" height="462.6" fill="#fff" stroke="#262626" stroke-width="4"/>
<path d="M194 374.8H260.3" stroke="#000" stroke-width="2.0" fill="none"/>
<text x="263.6" y="380.5" style="font-family:'DejaVu Sans',sans-serif;font-weight:bold;font-kerning:none;font-size:30px" fill="#000">mean T<tspan dy="14.5" style="font-size:25.4px;letter-spacing:0.17px">1km,FS11 ABC,MIS</tspan></text>
<path d="M194 427.1H260.3" stroke="#000" stroke-width="6.0" fill="none"/>
<text x="263.6" y="432.8" style="font-family:'DejaVu Sans',sans-serif;font-weight:bold;font-kerning:none;font-size:30px" fill="#000">mean T<tspan dy="14.5" style="font-size:25.4px;letter-spacing:0.17px">1km,FS11 ABC,MIS</tspan><tspan x="668.5" dy="-14.5" style="letter-spacing:0.36px">30d mov. av.</tspan></text>
<path d="M194 479.4H260.3" stroke="#00ff00" stroke-width="2.0" fill="none"/>
<text x="263.6" y="485.1" style="font-family:'DejaVu Sans',sans-serif;font-weight:bold;font-kerning:none;font-size:30px" fill="#000">mean T<tspan dy="14.5" style="font-size:25.4px;letter-spacing:0.64px">1km,"H1000",MIS</tspan></text>
<path d="M194 531.7H260.3" stroke="#00ff00" stroke-width="6.0" fill="none"/>
<text x="263.6" y="537.4" style="font-family:'DejaVu Sans',sans-serif;font-weight:bold;font-kerning:none;font-size:30px" fill="#000">mean T<tspan dy="14.5" style="font-size:25.4px;letter-spacing:0.64px">1km,"H1000",MIS</tspan><tspan x="655.4" dy="-14.5" style="letter-spacing:0.36px">30d mov. av.</tspan></text>
<path d="M194 584.0H260.3" stroke="#0072bd" stroke-width="2.2" stroke-dasharray="13.4 8" fill="none"/>
<text x="263.6" y="589.7" style="font-family:'DejaVu Sans',sans-serif;font-weight:bold;font-kerning:none;font-size:30px" fill="#000">mean T<tspan dy="14.5" style="font-size:25.4px;letter-spacing:0.72px">1km,"LIVAS",MIS</tspan></text>
<path d="M194 636.3H260.3" stroke="#0072bd" stroke-width="6.2" stroke-dasharray="26.3 26.2" fill="none"/>
<text x="263.6" y="642.0" style="font-family:'DejaVu Sans',sans-serif;font-weight:bold;font-kerning:none;font-size:30px" fill="#000">mean T<tspan dy="14.5" style="font-size:25.4px;letter-spacing:0.72px">1km,"LIVAS",MIS</tspan><tspan x="649.2" dy="-14.5" style="letter-spacing:0.36px">30d mov. av.</tspan></text>
<path d="M194 688.6H260.3" stroke="#d95319" stroke-width="2.2" stroke-dasharray="10 3.2 2 3.2" fill="none"/>
<text x="263.6" y="694.3" style="font-family:'DejaVu Sans',sans-serif;font-weight:bold;font-kerning:none;font-size:30px" fill="#000">mean T<tspan dy="14.5" style="font-size:25.4px;letter-spacing:0.57px">1km,"BLH",MIS</tspan></text>
<path d="M194 740.9H260.3" stroke="#d95319" stroke-width="6.4" stroke-dasharray="26.2 6.4 13 6.4 14.4" fill="none"/>
<text x="263.6" y="746.6" style="font-family:'DejaVu Sans',sans-serif;font-weight:bold;font-kerning:none;font-size:30px" fill="#000">mean T<tspan dy="14.5" style="font-size:25.4px;letter-spacing:0.57px">1km,"BLH",MIS</tspan><tspan x="619.7" dy="-14.5" style="letter-spacing:0.36px">30d mov. av.</tspan></text>
<path d="M194 785.6H260.3" stroke="#00ffff" stroke-width="6.2" fill="none"/>
<text x="263.6" y="798" style="font-family:'DejaVu Sans',sans-serif;font-weight:bold;font-kerning:none;font-size:30px" fill="#000">Nr of available data point</text>
</svg>
</div>
</body></html>
